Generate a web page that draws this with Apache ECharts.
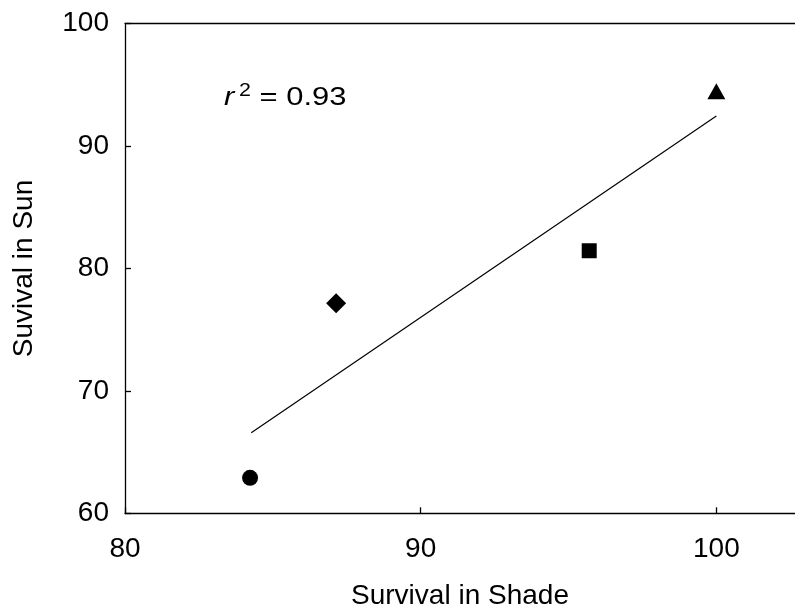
<!DOCTYPE html>
<html>
<head>
<meta charset="utf-8">
<script src="https://cdn.jsdelivr.net/npm/echarts@6/dist/echarts.min.js"></script>
<style>
html,body{margin:0;padding:0;background:#fff;}
#c{width:795px;height:612px;}
</style>
</head>
<body>
<div id="c"></div>
<script>
// Data
var groups = ['A', 'B', 'C', 'D'];
var shade = [84.23, 87.14, 95.70, 100.0];
var sun = [62.9, 77.16, 81.45, 94.48];
var fitX = [84.27, 100.0];
var fitY = [66.58, 92.46];
var xTicks = [80, 90, 100];
var yTicks = [60, 70, 80, 90, 100];
var r2Text = '0.93';

var FONT = 'Liberation Sans, Arial, Helvetica, sans-serif';
var symbolOf = ['circle', 'diamond', 'rect', 'triangle'];
var sizeOf = [16, 20, 15, [18, 16]];

var chart = echarts.init(document.getElementById('c'), null, {renderer: 'canvas'});

var series = groups.map(function (g, i) {
  return {
    type: 'scatter',
    name: g,
    xAxisIndex: 0, yAxisIndex: 0,
    data: [[shade[i], sun[i]]],
    symbol: symbolOf[i],
    symbolSize: sizeOf[i],
    itemStyle: {color: '#000', opacity: 1},
    z: 5
  };
});
series.push({
  type: 'line',
  name: 'fit',
  xAxisIndex: 0, yAxisIndex: 0,
  data: fitX.map(function (x, i) { return [x, fitY[i]]; }),
  showSymbol: false,
  symbol: 'none',
  lineStyle: {color: '#000', width: 1.2},
  z: 4
});

chart.setOption({
  animation: false,
  backgroundColor: '#fff',
  grid: {left: 125, right: 0, top: 23.7, bottom: 98.7, containLabel: false, outerBoundsMode: 'none'},
  xAxis: [{
    type: 'value', min: 80, max: 102.66, interval: 10,
    name: 'Survival in Shade', nameLocation: 'middle', nameGap: 69,
    nameTextStyle: {fontFamily: FONT, fontSize: 28, color: '#000'},
    axisLine: {show: true, onZero: false, lineStyle: {color: '#000', width: 1.3}},
    axisTick: {show: true, inside: true, length: 6, customValues: xTicks, lineStyle: {color: '#000', width: 1.3}},
    axisLabel: {
      fontFamily: FONT, fontSize: 28, color: '#000', margin: 22, customValues: xTicks
    },
    splitLine: {show: false}
  }, {
    type: 'value', position: 'top', min: 80, max: 102.66,
    axisLine: {show: true, lineStyle: {color: '#000', width: 1.3}},
    axisTick: {show: false}, axisLabel: {show: false}, splitLine: {show: false}
  }],
  yAxis: [{
    type: 'value', min: 60, max: 100, interval: 10,
    name: 'Suvival in Sun', nameLocation: 'middle', nameGap: 87,
    nameTextStyle: {fontFamily: FONT, fontSize: 28, color: '#000'},
    axisLine: {show: true, onZero: false, lineStyle: {color: '#000', width: 1.3}},
    axisTick: {show: true, inside: true, length: 6, customValues: yTicks, lineStyle: {color: '#000', width: 1.3}},
    axisLabel: {
      fontFamily: FONT, fontSize: 28, color: '#000', margin: 16, customValues: yTicks
    },
    splitLine: {show: false}
  }],
  graphic: [{
    type: 'text',
    x: 224, y: 82,
    scaleX: 1.19,
    style: {
      text: '{i|r}{s|2}{n| = ' + r2Text + '}',
      rich: {
        i: {fontFamily: FONT, fontStyle: 'italic', fontSize: 26, fill: '#000', verticalAlign: 'bottom'},
        s: {fontFamily: FONT, fontSize: 18, fill: '#000', padding: [0, 0, 11, 4], verticalAlign: 'bottom'},
        n: {fontFamily: FONT, fontSize: 26, fill: '#000', verticalAlign: 'bottom'}
      }
    }
  }],
  series: series
});
</script>
</body>
</html>
